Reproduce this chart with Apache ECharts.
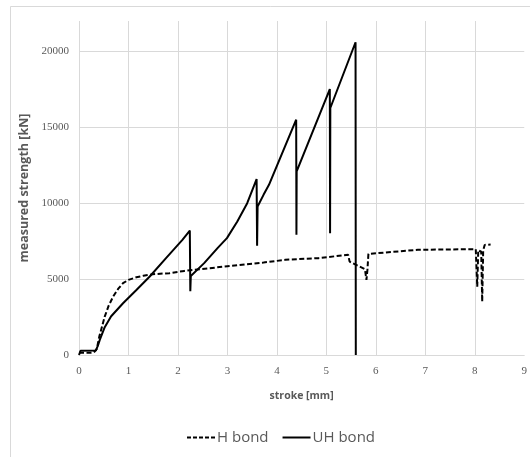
<!DOCTYPE html>
<html>
<head>
<meta charset="utf-8">
<script src="https://cdn.jsdelivr.net/npm/echarts@6/dist/echarts.min.js"></script>
<style>
  html, body { margin: 0; padding: 0; background: #fff; }
  #chart { width: 530px; height: 457px; }
</style>
</head>
<body>
<div id="chart"></div>
<script>
// H bond (dashed) - stroke [mm] / strength [kN]
var hStroke = [0, 0.1, 0.2, 0.3, 0.36, 0.41, 0.52, 0.6, 0.69, 0.79, 0.89, 1.0, 1.16, 1.3, 1.49, 1.83, 2.13, 2.6, 3.0, 3.73, 4.17, 4.84, 5.44, 5.47, 5.51, 5.78, 5.80, 5.81, 5.83, 5.85, 6.85, 8.02, 8.04, 8.05, 8.07, 8.13, 8.15, 8.17, 8.20, 8.32];
var hStrength = [150, 150, 150, 160, 400, 1210, 2530, 3250, 3850, 4350, 4730, 4950, 5120, 5220, 5320, 5390, 5540, 5700, 5850, 6090, 6270, 6380, 6600, 6150, 6050, 5650, 5600, 4950, 5600, 6660, 6930, 6970, 6900, 4500, 6900, 6800, 3520, 6900, 7250, 7280];

// UH bond (solid)
var uhStroke = [0, 0.03, 0.34, 0.38, 0.42, 0.52, 0.65, 0.89, 1.15, 1.43, 1.75, 2.09, 2.24, 2.25, 2.26, 2.53, 2.80, 2.99, 3.20, 3.40, 3.59, 3.60, 3.61, 3.73, 3.84, 4.39, 4.395, 4.40, 5.07, 5.075, 5.08, 5.59, 5.595];
var uhStrength = [0, 280, 290, 600, 1000, 1830, 2550, 3410, 4250, 5170, 6350, 7585, 8200, 4200, 5210, 6050, 7040, 7700, 8790, 10000, 11590, 7190, 9780, 10550, 11210, 15500, 7915, 12090, 17520, 8025, 16270, 20600, 0];

var xTicks = [0, 1, 2, 3, 4, 5, 6, 7, 8, 9];
var yTicks = [0, 5000, 10000, 15000, 20000];

function zip(a, b) {
    var out = [];
    for (var i = 0; i < a.length; i++) out.push([a[i], b[i]]);
    return out;
}

var grey = '#595959';
// legend icons: dashed bar and solid bar
var dashIcon = 'path://M0 0h4v2h-4z M6 0h4v2h-4z M12 0h4v2h-4z M18 0h4v2h-4z M24 0h4v2h-4z';
var solidIcon = 'path://M0 0h28v2h-28z';

var chart = echarts.init(document.getElementById('chart'));
var option = {
    animation: false,
    backgroundColor: '#fff',
    graphic: [{
        type: 'rect',
        shape: { x: 10.5, y: 6.5, width: 560, height: 480 },
        style: { fill: 'none', stroke: '#d9d9d9', lineWidth: 1 },
        silent: true
    }],
    grid: { left: 79, right: 3, top: 21, bottom: 102 },
    legend: {
        left: 182,
        top: 425,
        itemWidth: 28,
        itemHeight: 2,
        itemGap: 14,
        itemStyle: { color: '#000' },
        textStyle: { fontFamily: 'Open Sans', fontSize: 15, color: grey, padding: [0, 0, 0, -3] },
        data: [
            { name: 'H bond', icon: dashIcon },
            { name: 'UH bond', icon: solidIcon }
        ]
    },
    xAxis: {
        type: 'value',
        min: xTicks[0],
        max: xTicks[xTicks.length - 1],
        interval: 1,
        name: 'stroke [mm]',
        nameLocation: 'middle',
        nameGap: 36,
        nameTextStyle: { fontFamily: 'Open Sans', fontWeight: 'bold', fontSize: 10.5, color: grey },
        axisLine: { show: true, lineStyle: { color: '#d9d9d9' } },
        axisTick: { show: false },
        axisLabel: { fontFamily: 'Liberation Sans Narrow', fontSize: 11, color: grey, margin: 11 },
        splitLine: { show: true, showMaxLine: false, lineStyle: { color: '#d9d9d9' } }
    },
    yAxis: {
        type: 'value',
        min: 0,
        max: 22000,
        interval: 5000,
        name: 'measured strength [kN]',
        nameLocation: 'middle',
        nameGap: 37,
        nameTextStyle: { fontFamily: 'Open Sans', fontWeight: 'bold', fontSize: 12.5, color: grey },
        axisLine: { show: false },
        axisTick: { show: false },
        axisLabel: {
            fontFamily: 'Liberation Sans Narrow', fontSize: 11, color: grey, margin: 10,
            showMaxLabel: false,
            formatter: function (v) { return yTicks.indexOf(v) >= 0 ? String(v) : ''; }
        },
        splitLine: { show: true, showMinLine: false, showMaxLine: false, lineStyle: { color: '#d9d9d9' } }
    },
    series: [
        {
            name: 'H bond',
            type: 'line',
            symbol: 'none',
            data: zip(hStroke, hStrength),
            lineStyle: { color: '#000', width: 2, type: [5, 2.5] },
            itemStyle: { color: '#000' }
        },
        {
            name: 'UH bond',
            type: 'line',
            symbol: 'none',
            data: zip(uhStroke, uhStrength),
            lineStyle: { color: '#000', width: 2 },
            itemStyle: { color: '#000' }
        }
    ]
};
chart.setOption(option);
</script>
</body>
</html>
